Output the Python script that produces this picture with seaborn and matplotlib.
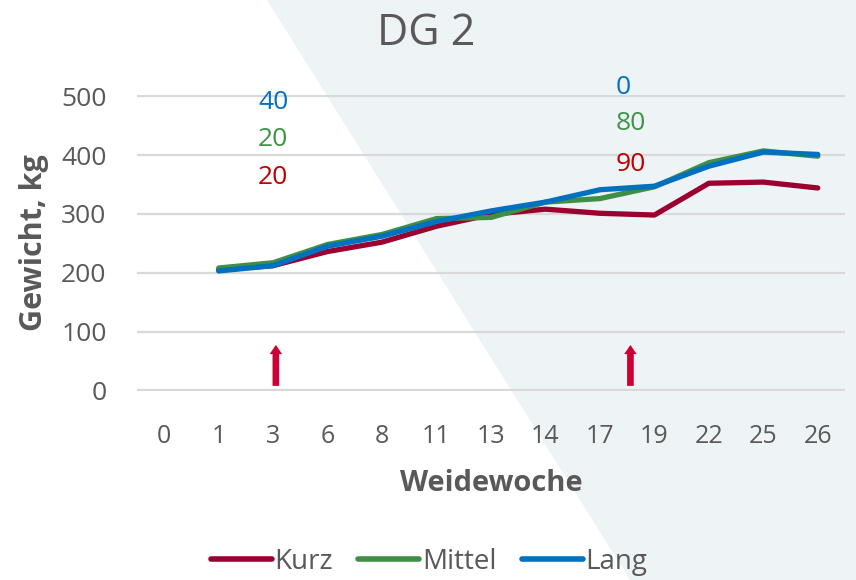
import matplotlib
matplotlib.use("Agg")
import matplotlib.pyplot as plt
from matplotlib.patches import Polygon
import seaborn as sns
import pandas as pd

weeks = ["0", "1", "3", "6", "8", "11", "13", "14", "17", "19", "22", "25", "26"]
data_weeks = ["1", "3", "6", "8", "11", "13", "14", "17", "19", "22", "25", "26"]
kurz = [205, 212, 236, 252, 279, 299, 308, 301, 298, 352, 354, 344]
mittel = [208, 217, 248, 265, 292, 294, 320, 326, 346, 387, 407, 398]
lang = [203, 212, 245, 262, 287, 305, 320, 341, 347, 381, 405, 401]
series_names = ["Kurz", "Mittel", "Lang"]
colors = {"Kurz": "#9A0030", "Mittel": "#3F8F47", "Lang": "#0070C0"}

ann_left = ["40", "20", "20"]
ann_left_y = [490, 427, 362]
ann_right = ["0", "80", "90"]
ann_right_y = [515, 454, 384]
ann_colors = ["#0070C0", "#3E9446", "#C00000"]

rows = []
for name, vals in zip(series_names, [kurz, mittel, lang]):
    for w, v in zip(data_weeks, vals):
        rows.append({"pos": weeks.index(w), "Gewicht": v, "Serie": name})
df = pd.DataFrame(rows)

sns.set_theme(style="white")
plt.rcParams["font.family"] = ["Open Sans", "DejaVu Sans"]
gray = "#595959"

fig = plt.figure(figsize=(8.56, 5.80), dpi=100)
bg = Polygon([(267 / 856, 1), (630 / 856, 0), (1, 0), (1, 1)],
             closed=True, transform=fig.transFigure,
             facecolor="#EEF3F6", edgecolor="none", zorder=-10)
fig.patches.append(bg)

ax = fig.add_axes([137 / 856, 1 - 391 / 580, 708 / 856, 296 / 580])
ax.set_zorder(5)
ax.set_facecolor("none")
sns.lineplot(data=df, x="pos", y="Gewicht", hue="Serie", palette=colors,
             linewidth=3.8, ax=ax, legend=True, solid_capstyle="round")

ax.set_xlim(-0.5, 12.5)
ax.set_ylim(-1, 502)
ax.set_yticks([0, 100, 200, 300, 400, 500])
ax.set_xticks(range(len(weeks)))
ax.set_xticklabels(weeks)
ax.grid(axis="y", color="#D9D9D9", linewidth=1.6)
ax.grid(axis="x", visible=False)
ax.set_axisbelow(True)
for s in ax.spines.values():
    s.set_visible(False)
ax.tick_params(axis="y", length=0, pad=22, labelsize=19, labelcolor=gray)
ax.tick_params(axis="x", length=0, pad=24, labelsize=18, labelcolor=gray)

ax.set_ylabel("Gewicht, kg", fontsize=22, fontweight="bold", color=gray, labelpad=9)
ax.set_xlabel("Weidewoche", fontsize=21, fontweight="bold", color=gray, labelpad=14)

fig.text(426 / 856, 1 - 34 / 580, "DG 2", ha="center", va="center",
         fontsize=31, color=gray)

for t, y, c in zip(ann_left, ann_left_y, ann_colors):
    ax.text(2.0, y, t, ha="center", va="center", fontsize=19, color=c, clip_on=False)
for t, y, c in zip(ann_right, ann_right_y, ann_colors):
    ax.text(8.28, y, t, ha="left", va="center", fontsize=19, color=c, clip_on=False)

for xpos in [2.05, 8.56]:
    ax.annotate("", xy=(xpos, 82), xytext=(xpos, 3),
                arrowprops=dict(arrowstyle="simple,head_width=0.75,head_length=0.55,tail_width=0.4",
                                color="#CC0033", lw=0))

handles, labels = ax.get_legend_handles_labels()
leg = ax.legend(handles, labels, loc="center", bbox_to_anchor=(429 / 856, 1 - 562 / 580),
                bbox_transform=fig.transFigure, ncol=3, frameon=False, fontsize=20,
                handlelength=2.2, handletextpad=0.1, columnspacing=0.9,
                labelcolor=gray)
for line in leg.get_lines():
    line.set_linewidth(4)
    line.set_solid_capstyle("round")

fig.savefig("out.png", dpi=100)
